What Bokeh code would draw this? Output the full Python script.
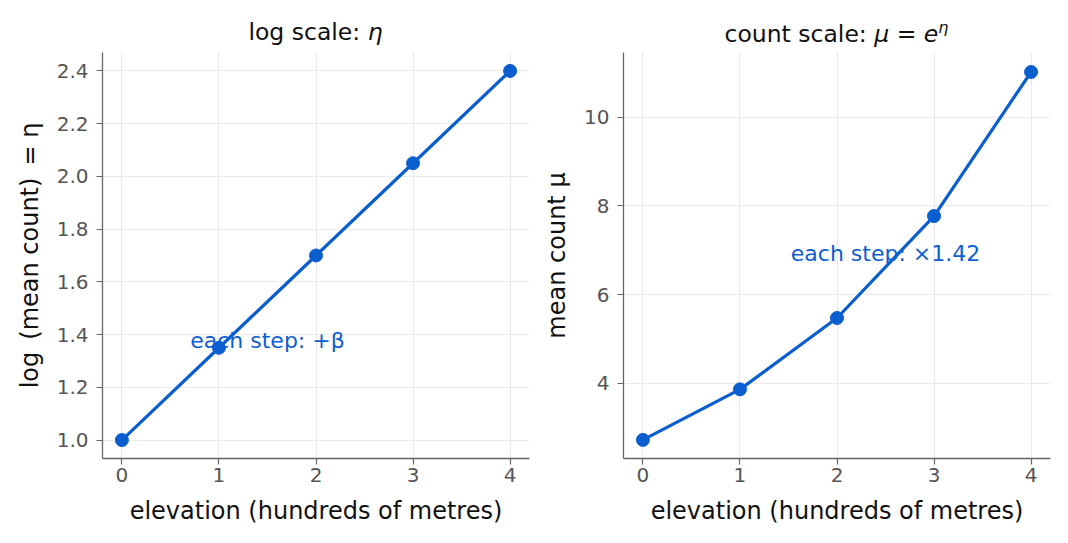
from bokeh.plotting import figure
from bokeh.layouts import row, column
from bokeh.models import Label, FixedTicker, Range1d, ColumnDataSource, NumeralTickFormatter, Div
from bokeh.embed import file_html
from bokeh.resources import INLINE

elevation = [0, 1, 2, 3, 4]
eta = [1.00, 1.35, 1.70, 2.05, 2.40]
mu = [2.72, 3.86, 5.47, 7.77, 11.02]
left_yticks = [1.0, 1.2, 1.4, 1.6, 1.8, 2.0, 2.2, 2.4]
right_yticks = [4, 6, 8, 10]
xticks = [0, 1, 2, 3, 4]

BLUE = "#0b5ed0"
AXC = "#666666"
TICKC = "#555555"
FONT = "DejaVu Sans"
TOP = 52


def style(p, yticks):
    p.xaxis.ticker = FixedTicker(ticks=xticks)
    p.yaxis.ticker = FixedTicker(ticks=yticks)
    for ax in (p.xaxis[0], p.yaxis[0]):
        ax.axis_line_color = AXC
        ax.axis_line_width = 1.3
        ax.major_tick_line_color = AXC
        ax.major_tick_line_width = 1.2
        ax.major_tick_out = 6
        ax.major_tick_in = 0
        ax.minor_tick_line_color = None
        ax.major_label_text_font = FONT
        ax.major_label_text_font_size = "20px"
        ax.major_label_text_color = TICKC
        ax.axis_label_text_font = FONT
        ax.axis_label_text_font_size = "24px"
        ax.axis_label_text_font_style = "normal"
        ax.axis_label_text_color = "#111111"
    p.xaxis.major_label_standoff = 3
    p.xaxis.axis_label_standoff = 12
    p.yaxis.major_label_standoff = 8
    p.yaxis.axis_label_standoff = 10
    p.grid.grid_line_color = "#ebebeb"
    p.grid.grid_line_width = 1
    p.outline_line_color = None
    p.background_fill_color = "white"
    p.border_fill_color = "white"


def make(y, yr, yticks, ylabel, note_x, note_y, note, bl, br):
    src = ColumnDataSource(dict(x=elevation, y=y))
    p = figure(width=534, height=543 - TOP, output_backend="svg", toolbar_location=None,
               x_range=Range1d(-0.2, 4.2), y_range=Range1d(*yr),
               min_border_left=bl, min_border_right=br,
               min_border_top=0, min_border_bottom=85)
    p.line("x", "y", source=src, line_color=BLUE, line_width=3.2)
    p.scatter("x", "y", source=src, size=13, fill_color=BLUE, line_color=BLUE)
    p.xaxis.axis_label = "elevation (hundreds of metres)"
    p.yaxis.axis_label = ylabel
    style(p, yticks)
    p.add_layout(Label(x=note_x, y=note_y, text=note, text_align="center",
                       text_baseline="middle", text_color=BLUE,
                       text_font=FONT, text_font_size="22px"))
    return p


p1 = make(eta, (0.93, 2.47), left_yticks, "log\u2002(mean count)\u2002= \u03b7",
          1.5, 1.377, "each step: +\u03b2", 102, 5)
p1.yaxis.formatter = NumeralTickFormatter(format="0.0")
p2 = make(mu, (2.30, 11.46), right_yticks, "mean count \u03bc",
          2.5, 6.93, "each step: \u00d71.42", 89, 18)


def title_div(html, pl, pr):
    inner = ('<div style="width:534px;box-sizing:border-box;padding-left:%dpx;'
             'padding-right:%dpx;padding-top:18px;text-align:center;'
             'font-family:\'DejaVu Sans\';font-size:23.5px;color:#111111;'
             'line-height:normal;white-space:nowrap;">%s</div>' % (pl, pr, html))
    return Div(text=inner, width=534, height=TOP, margin=0)


d1 = title_div("log scale: <i>\u03b7</i>", 102, 5)
d2 = title_div("count scale: <i>\u03bc</i> = <i>e</i><sup style=\"font-size:16px;"
               "vertical-align:9px;\"><i>\u03b7</i></sup>", 89, 18)

layout = column(row(d1, d2, spacing=0), row(p1, p2, spacing=0), spacing=0)
open("out.html", "w").write(file_html(layout, INLINE))
